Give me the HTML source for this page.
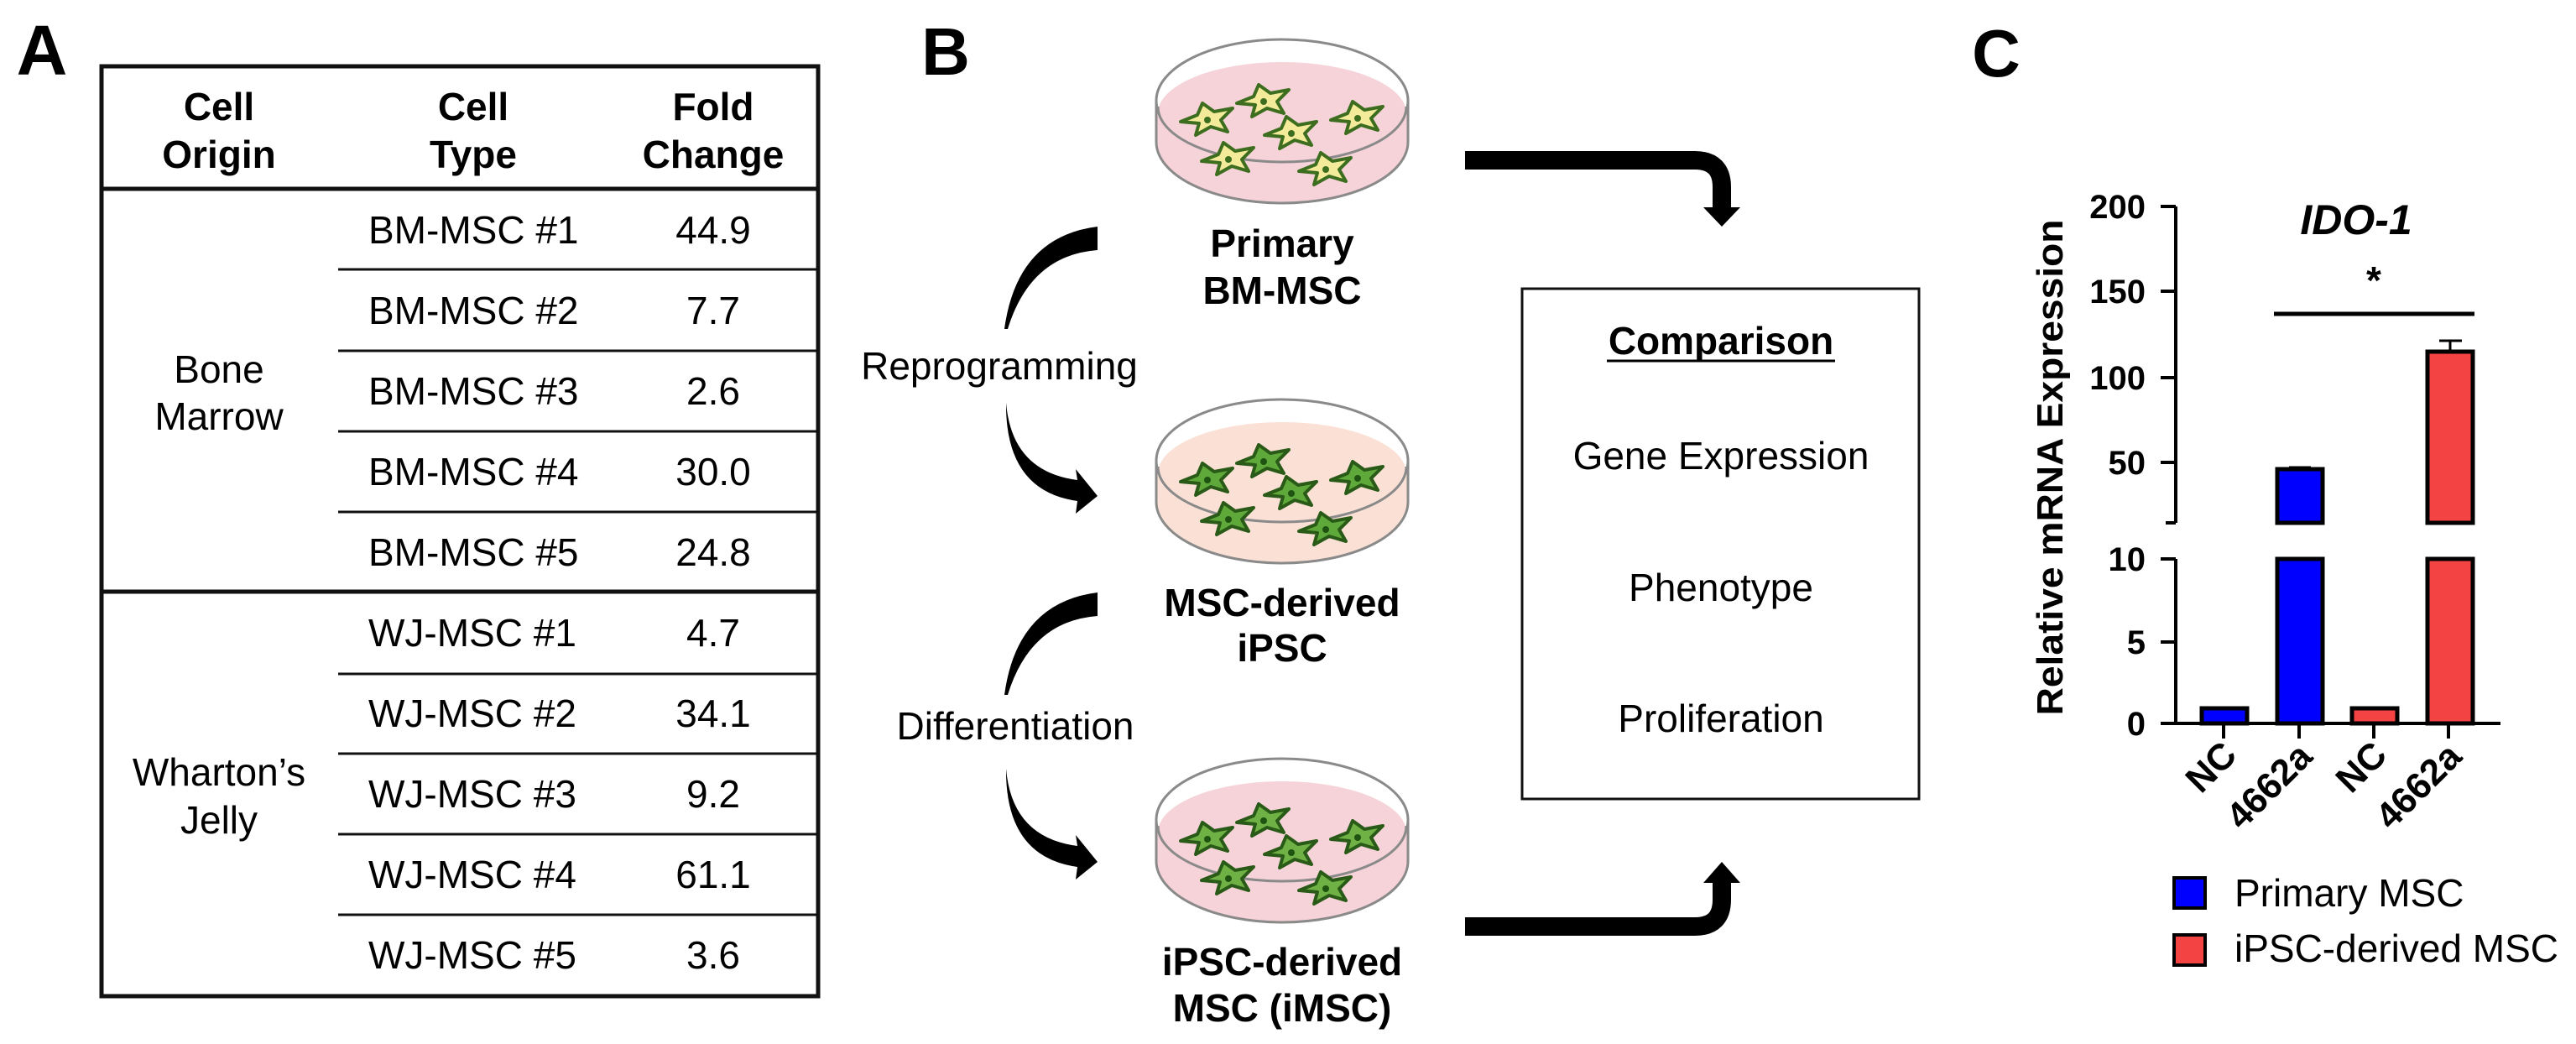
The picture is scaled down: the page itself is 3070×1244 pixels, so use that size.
<!DOCTYPE html>
<html><head><meta charset="utf-8"><style>
html,body{margin:0;padding:0;background:#fff}
svg{display:block}
text{font-family:"Liberation Sans",Arial,sans-serif}
</style></head><body>
<svg width="3070" height="1244" viewBox="0 0 3070 1244" xmlns="http://www.w3.org/2000/svg">
<defs>
<g id="cell">
<path d="M-32,2 L-12,-6 L-6,-20 L8,-10 L30,-14 L16,0 L24,14 L4,8 L-14,18 L-10,4 Z" stroke-width="4" stroke-linejoin="round"/>
</g>
<g id="dishbody">
<path d="M-150,73 L-150,122 A150,73 0 0 0 150,122 L150,73 Z" fill="#f6d3d8" stroke="#8a8a8a" stroke-width="3"/>
<ellipse cx="0" cy="73" rx="150" ry="73" fill="#fff" stroke="#8a8a8a" stroke-width="3"/>
</g>
</defs>
<!-- Panel A -->
<text x="50" y="89" font-size="84" font-weight="bold" text-anchor="middle">A</text>
<g stroke="#111" fill="none">
<rect x="121" y="79" width="854" height="1108" stroke-width="5"/>
<line x1="121" y1="225" x2="975" y2="225" stroke-width="5"/>
<line x1="121" y1="705" x2="975" y2="705" stroke-width="5"/>
<g stroke-width="3">
<line x1="403" y1="321" x2="975" y2="321"/>
<line x1="403" y1="418" x2="975" y2="418"/>
<line x1="403" y1="514" x2="975" y2="514"/>
<line x1="403" y1="610" x2="975" y2="610"/>
<line x1="403" y1="803" x2="975" y2="803"/>
<line x1="403" y1="898" x2="975" y2="898"/>
<line x1="403" y1="994" x2="975" y2="994"/>
<line x1="403" y1="1090" x2="975" y2="1090"/>
</g></g>
<g font-size="46" font-weight="bold" text-anchor="middle">
<text x="261" y="143">Cell</text><text x="261" y="200">Origin</text>
<text x="564" y="143">Cell</text><text x="564" y="200">Type</text>
<text x="850" y="143">Fold</text><text x="850" y="200">Change</text>
</g>
<g font-size="46" text-anchor="middle">
<text x="261" y="456">Bone</text><text x="261" y="512">Marrow</text>
<text x="261" y="936">Wharton’s</text><text x="261" y="993">Jelly</text>
</g>
<g font-size="46">
<text x="439" y="290">BM-MSC #1</text><text x="439" y="386">BM-MSC #2</text>
<text x="439" y="482">BM-MSC #3</text><text x="439" y="578">BM-MSC #4</text>
<text x="439" y="674">BM-MSC #5</text><text x="439" y="770">WJ-MSC #1</text>
<text x="439" y="866">WJ-MSC #2</text><text x="439" y="962">WJ-MSC #3</text>
<text x="439" y="1058">WJ-MSC #4</text><text x="439" y="1154">WJ-MSC #5</text>
</g>
<g font-size="46" text-anchor="middle">
<text x="850" y="290">44.9</text><text x="850" y="386">7.7</text>
<text x="850" y="482">2.6</text><text x="850" y="578">30.0</text>
<text x="850" y="674">24.8</text><text x="850" y="770">4.7</text>
<text x="850" y="866">34.1</text><text x="850" y="962">9.2</text>
<text x="850" y="1058">61.1</text><text x="850" y="1154">3.6</text>
</g>
<!-- Panel B -->
<text x="1127" y="89" font-size="80" font-weight="bold" text-anchor="middle">B</text>
<!-- dish 1 -->
<g transform="translate(1528,47)">
<use href="#dishbody"/>
<ellipse cx="0" cy="88" rx="148" ry="61" fill="#f6d3d8"/>
<path d="M-148,80 A148,66 0 0 0 148,80" fill="none" stroke="#8a8a8a" stroke-width="3"/>
<g fill="#f3eb9a" stroke="#3d6e1f">
<use href="#cell" x="-89" y="96"/><use href="#cell" x="-22" y="74"/><use href="#cell" x="11" y="112"/>
<use href="#cell" x="90" y="94"/><use href="#cell" x="-64" y="143"/><use href="#cell" x="52" y="155"/>
</g>
<g fill="#3d6e1f"><circle cx="-89" cy="96" r="4"/><circle cx="-22" cy="74" r="4"/><circle cx="11" cy="112" r="4"/><circle cx="90" cy="94" r="4"/><circle cx="-64" cy="143" r="4"/><circle cx="52" cy="155" r="4"/></g>
</g>
<!-- dish 2 -->
<g transform="translate(1528,476)">
<path d="M-150,73 L-150,122 A150,73 0 0 0 150,122 L150,73 Z" fill="#fbe1d5" stroke="#8a8a8a" stroke-width="3"/>
<ellipse cx="0" cy="73" rx="150" ry="73" fill="#fff" stroke="#8a8a8a" stroke-width="3"/>
<ellipse cx="0" cy="88" rx="148" ry="61" fill="#fbe1d5"/>
<path d="M-148,80 A148,66 0 0 0 148,80" fill="none" stroke="#8a8a8a" stroke-width="3"/>
<g fill="#5fa83a" stroke="#2a5a18">
<use href="#cell" x="-89" y="96"/><use href="#cell" x="-22" y="74"/><use href="#cell" x="11" y="112"/>
<use href="#cell" x="90" y="94"/><use href="#cell" x="-64" y="143"/><use href="#cell" x="52" y="155"/>
</g>
<g fill="#1f5312"><circle cx="-89" cy="96" r="4"/><circle cx="-22" cy="74" r="4"/><circle cx="11" cy="112" r="4"/><circle cx="90" cy="94" r="4"/><circle cx="-64" cy="143" r="4"/><circle cx="52" cy="155" r="4"/></g>
</g>
<!-- dish 3 -->
<g transform="translate(1528,904)">
<use href="#dishbody"/>
<ellipse cx="0" cy="88" rx="148" ry="61" fill="#f6d3d8"/>
<path d="M-148,80 A148,66 0 0 0 148,80" fill="none" stroke="#8a8a8a" stroke-width="3"/>
<g fill="#6fb144" stroke="#2a5a18">
<use href="#cell" x="-89" y="96"/><use href="#cell" x="-22" y="74"/><use href="#cell" x="11" y="112"/>
<use href="#cell" x="90" y="94"/><use href="#cell" x="-64" y="143"/><use href="#cell" x="52" y="155"/>
</g>
<g fill="#1f5312"><circle cx="-89" cy="96" r="4"/><circle cx="-22" cy="74" r="4"/><circle cx="11" cy="112" r="4"/><circle cx="90" cy="94" r="4"/><circle cx="-64" cy="143" r="4"/><circle cx="52" cy="155" r="4"/></g>
</g>
<g font-size="46" font-weight="bold" text-anchor="middle">
<text x="1528" y="306">Primary</text><text x="1528" y="362">BM-MSC</text>
<text x="1528" y="734">MSC-derived</text><text x="1528" y="788">iPSC</text>
<text x="1528" y="1162">iPSC-derived</text><text x="1528" y="1217">MSC (iMSC)</text>
</g>
<g font-size="46" text-anchor="middle">
<text x="1191" y="452">Reprogramming</text>
<text x="1210" y="881">Differentiation</text>
</g>
<!-- curved arrows -->
<g fill="#000">
<g id="curv">
<path d="M1308,270 L1308,298 Q1228,304 1201,392 L1197,392 Q1212,282 1308,270 Z"/>
<path d="M1199,480 Q1206,562 1284,572 L1282,559 L1308,591 L1282,612 L1284,597 Q1198,585 1199,480 Z"/>
</g>
<use href="#curv" y="436"/>
</g>
<!-- elbow arrows -->
<g fill="none" stroke="#000" stroke-width="22">
<path d="M1746,191 L2020,191 Q2052,191 2052,223 L2052,248"/>
<path d="M1746,1104 L2020,1104 Q2052,1104 2052,1072 L2052,1050"/>
</g>
<polygon points="2030,247 2074,247 2052,270" fill="#000"/>
<polygon points="2030,1052 2074,1052 2052,1027" fill="#000"/>
<!-- comparison box -->
<rect x="1814" y="344" width="473" height="608" fill="none" stroke="#111" stroke-width="3"/>
<text x="2051" y="422" font-size="46" font-weight="bold" text-anchor="middle">Comparison</text>
<line x1="1915" y1="430" x2="2187" y2="430" stroke="#000" stroke-width="3"/>
<g font-size="46" text-anchor="middle">
<text x="2051" y="559">Gene Expression</text>
<text x="2051" y="716">Phenotype</text>
<text x="2051" y="872">Proliferation</text>
</g>
<!-- Panel C -->
<text x="2379" y="91" font-size="80" font-weight="bold" text-anchor="middle">C</text>
<text x="2808" y="279" font-size="50" font-weight="bold" font-style="italic" text-anchor="middle">IDO-1</text>
<text x="2829" y="350" font-size="46" font-weight="bold" text-anchor="middle">*</text>
<line x1="2710" y1="374" x2="2949" y2="374" stroke="#000" stroke-width="5"/>
<g stroke="#000" stroke-width="4" fill="none">
<line x1="2593" y1="246" x2="2593" y2="623"/>
<line x1="2593" y1="666" x2="2593" y2="862"/>
<line x1="2575" y1="246" x2="2593" y2="246"/>
<line x1="2575" y1="347" x2="2593" y2="347"/>
<line x1="2575" y1="450" x2="2593" y2="450"/>
<line x1="2575" y1="551" x2="2593" y2="551"/>
<line x1="2581" y1="623" x2="2593" y2="623"/>
<line x1="2575" y1="666" x2="2593" y2="666"/>
<line x1="2575" y1="765" x2="2593" y2="765"/>
<line x1="2575" y1="862" x2="2980" y2="862"/>
<line x1="2650" y1="862" x2="2650" y2="880"/>
<line x1="2740" y1="862" x2="2740" y2="880"/>
<line x1="2829" y1="862" x2="2829" y2="880"/>
<line x1="2918" y1="862" x2="2918" y2="880"/>
</g>
<g font-size="40" font-weight="bold" text-anchor="end">
<text x="2557" y="260">200</text><text x="2557" y="361">150</text>
<text x="2557" y="464">100</text><text x="2557" y="565">50</text>
<text x="2557" y="680">10</text><text x="2557" y="779">5</text>
<text x="2557" y="876">0</text>
</g>
<text transform="translate(2458,557) rotate(-90)" font-size="44" font-weight="bold" text-anchor="middle" textLength="591" lengthAdjust="spacingAndGlyphs">Relative mRNA Expression</text>
<!-- bars -->
<g stroke="#000" stroke-width="5">
<rect x="2624" y="844" width="54" height="18" fill="#0000ff"/>
<rect x="2714" y="559" width="54" height="64" fill="#0000ff"/>
<rect x="2714" y="666" width="54" height="196" fill="#0000ff"/>
<rect x="2803" y="844" width="54" height="18" fill="#f44343"/>
<rect x="2893" y="419" width="54" height="204" fill="#f44343"/>
<rect x="2893" y="666" width="54" height="196" fill="#f44343"/>
</g>
<g stroke="#000" stroke-width="3">
<line x1="2920" y1="406" x2="2920" y2="419"/><line x1="2907" y1="406" x2="2934" y2="406"/>
<line x1="2728" y1="557" x2="2754" y2="557"/>
</g>
<rect x="2710" y="626" width="62" height="37" fill="#fff"/>
<rect x="2889" y="626" width="62" height="37" fill="#fff"/>
<g font-size="44" font-weight="bold" text-anchor="end">
<text transform="translate(2668,902) rotate(-45)">NC</text>
<text transform="translate(2758,904) rotate(-45)">4662a</text>
<text transform="translate(2847,902) rotate(-45)">NC</text>
<text transform="translate(2936,904) rotate(-45)">4662a</text>
</g>
<rect x="2591" y="1046" width="37" height="36" fill="#0000ff" stroke="#000" stroke-width="4"/>
<rect x="2591" y="1114" width="37" height="36" fill="#f44343" stroke="#000" stroke-width="4"/>
<g font-size="46">
<text x="2663" y="1080">Primary MSC</text>
<text x="2663" y="1146">iPSC-derived MSC</text>
</g>
</svg>
</body></html>
